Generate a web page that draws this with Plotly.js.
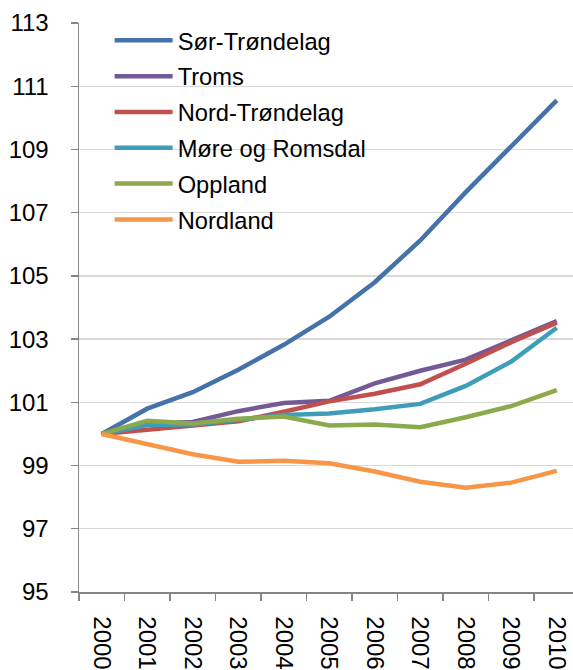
<!DOCTYPE html>
<html>
<head>
<meta charset="utf-8">
<script src="https://cdn.plot.ly/plotly-3.0.1.min.js"></script>
<style>
  html, body { margin: 0; padding: 0; overflow: hidden; background: #fff; }
  #chart { width: 573px; height: 670px; }
</style>
</head>
<body>
<div id="chart"></div>
<script>
const years = ["2000","2001","2002","2003","2004","2005","2006","2007","2008","2009","2010"];
const seriesNames = ["Sør-Trøndelag","Troms","Nord-Trøndelag","Møre og Romsdal","Oppland","Nordland"];
const sorTrondelag = [100, 100.80, 101.32, 102.03, 102.82, 103.71, 104.80, 106.12, 107.65, 109.08, 110.55];
const troms        = [100, 100.32, 100.38, 100.72, 100.98, 101.05, 101.60, 102.00, 102.35, 102.95, 103.57];
const nordTrondelag= [100, 100.13, 100.27, 100.40, 100.70, 101.03, 101.27, 101.57, 102.22, 102.90, 103.52];
const moreRomsdal  = [100, 100.28, 100.30, 100.46, 100.60, 100.65, 100.78, 100.95, 101.52, 102.29, 103.36];
const oppland      = [100, 100.42, 100.33, 100.48, 100.55, 100.27, 100.30, 100.21, 100.53, 100.88, 101.39];
const nordland     = [100, 99.68, 99.36, 99.12, 99.15, 99.07, 98.81, 98.49, 98.30, 98.46, 98.83];
const yTicks = [95, 97, 99, 101, 103, 105, 107, 109, 111, 113];

const values = [sorTrondelag, troms, nordTrondelag, moreRomsdal, oppland, nordland];
const colors = ["#4572A8", "#735A96", "#C0504D", "#3F9DB8", "#8BAA4C", "#F79646"];

const traces = seriesNames.map((name, i) => ({
  type: "scatter",
  mode: "lines",
  name: name,
  x: years,
  y: values[i],
  legendgroup: "g" + i,
  line: { color: colors[i], width: 4.5 }
}));

const font = "Liberation Sans, Arial, sans-serif";

const layout = {
  width: 573,
  height: 670,
  margin: { l: 79, r: 0, t: 23, b: 78 },
  paper_bgcolor: "#ffffff",
  plot_bgcolor: "#ffffff",
  showlegend: true,
  legend: {
    x: 0.062, y: 1.008, xanchor: "left", yanchor: "top",
    bgcolor: "rgba(0,0,0,0)",
    font: { family: font, size: 23.7, color: "#000" },
    traceorder: "grouped",
    tracegroupgap: 2,
    itemwidth: 58
  },
  xaxis: {
    type: "category",
    range: [-0.5, 10.357],
    tickson: "boundaries",
    ticks: "outside",
    ticklen: 7,
    tickwidth: 1.3,
    tickcolor: "#868686",
    showline: true,
    linecolor: "#868686",
    linewidth: 1.5,
    showgrid: false,
    tickangle: 90,
    tickfont: { family: font, size: 24, color: "#000" },
    ticklabelstandoff: 18,
    fixedrange: true
  },
  yaxis: {
    range: [95, 113],
    tickvals: yTicks,
    ticktext: yTicks.map(String),
    ticks: "outside",
    ticklen: 7,
    tickwidth: 1.3,
    tickcolor: "#868686",
    showline: true,
    linecolor: "#868686",
    linewidth: 1.5,
    showgrid: true,
    gridcolor: "#D9D9D9",
    gridwidth: 1.3,
    zeroline: false,
    tickfont: { family: font, size: 24, color: "#000" },
    ticklabelstandoff: 17,
    fixedrange: true
  }
};

Plotly.newPlot("chart", traces, layout, { displayModeBar: false, staticPlot: true });
</script>
</body>
</html>
